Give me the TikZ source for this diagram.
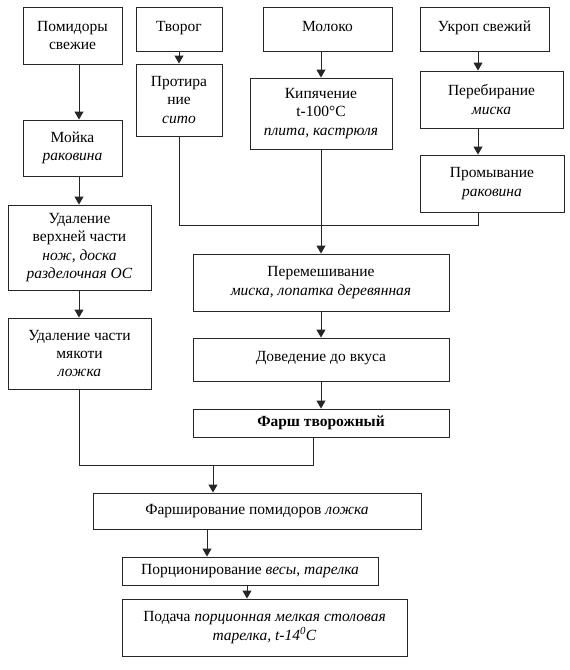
\documentclass[tikz,border=0pt]{standalone}
\usepackage{fontspec}
\setmainfont{Liberation Serif}
\usetikzlibrary{arrows.meta}
\begin{document}
\begin{tikzpicture}[x=1pt,y=-1pt,
  pbox/.style={draw=black!85, line width=0.9pt, align=center, inner sep=0pt,
    font=\fontsize{15.5}{18.2}\selectfont},
  conn/.style={draw=black!85, line width=0.9pt},
  arrline/.style={conn, -{Triangle[length=8pt,width=9pt]}}]
\useasboundingbox (0,0) rectangle (570,670);
% left column
\node[pbox, minimum width=99pt, minimum height=57pt] (pom) at (72.5,35.5) {Помидоры\\свежие};
\node[pbox, minimum width=99pt, minimum height=56pt] (moy) at (72.5,148) {Мойка\\\textit{раковина}};
\node[pbox, minimum width=143pt, minimum height=85pt] (udv) at (79.5,247.5) {Удаление\\верхней части\\\textit{нож, доска}\\\textit{разделочная ОС}};
\node[pbox, minimum width=143pt, minimum height=71pt] (udm) at (79.5,353.5) {Удаление части\\мякоти\\\textit{ложка}};
% tvorog
\node[pbox, minimum width=86pt, minimum height=44pt, text depth=6pt] (tvo) at (179,29) {Творог};
\node[pbox, minimum width=86pt, minimum height=72pt] (pro) at (179,100) {Протира\\ние\\\textit{сито}};
% moloko
\node[pbox, minimum width=129pt, minimum height=44pt, text depth=6pt] (mol) at (327.5,29) {Молоко};
\node[pbox, minimum width=142pt, minimum height=71pt] (kip) at (321,113.5) {Кипячение\\t-100°C\\\textit{плита, кастрюля}};
% ukrop
\node[pbox, minimum width=129pt, minimum height=44pt, text depth=6pt] (ukr) at (484.5,29) {Укроп свежий};
\node[pbox, minimum width=143pt, minimum height=57pt] (per) at (491.5,99.5) {Перебирание\\\textit{миска}};
\node[pbox, minimum width=144pt, minimum height=57pt] (prm) at (492,183.5) {Промывание\\\textit{раковина}};
% center
\node[pbox, minimum width=256pt, minimum height=57pt] (mix) at (321,282.5) {Перемешивание\\\textit{миска, лопатка деревянная}};
\node[pbox, minimum width=256pt, minimum height=43pt, text depth=7pt] (dov) at (321,359.5) {Доведение до вкуса};
\node[pbox, minimum width=256pt, minimum height=28pt] (far) at (321,423) {\textbf{Фарш творожный}};
% bottom
\node[pbox, minimum width=328pt, minimum height=36pt] (fsh) at (257,511) {Фарширование помидоров \textit{ложка}};
\node[pbox, minimum width=256pt, minimum height=28pt] (por) at (250,571) {Порционирование \textit{весы}, \textit{тарелка}};
\node[pbox, minimum width=285pt, minimum height=57pt] (pod) at (264.5,627.5) {Подача \textit{порционная мелкая столовая}\\\textit{тарелка, t-14\textsuperscript{0}C}};
% helper coordinates
\coordinate (xL) at (79,0);
\coordinate (xT) at (179,0);
\coordinate (xM) at (321,0);
\coordinate (xU) at (478,0);
\coordinate (xF) at (313,0);
\coordinate (xJ) at (213,0);
\coordinate (xP) at (207,0);
\coordinate (xQ) at (247,0);
\coordinate (yA) at (0,225);
\coordinate (yB) at (0,465);
% connectors
\draw[arrline] (pom.south -| xL) -- (moy.north -| xL);
\draw[arrline] (moy.south -| xL) -- (udv.north -| xL);
\draw[arrline] (udv.south -| xL) -- (udm.north -| xL);
\draw[arrline] (tvo.south -| xT) -- (pro.north -| xT);
\draw[arrline] (mol.south -| xM) -- (kip.north -| xM);
\draw[arrline] (ukr.south -| xU) -- (per.north -| xU);
\draw[arrline] (per.south -| xU) -- (prm.north -| xU);
\coordinate (jA) at (xM |- yA);
\draw[conn] (pro.south -| xT) |- (jA);
\draw[conn] (prm.south -| xU) |- (jA);
\draw[arrline] (kip.south -| xM) -- (mix.north -| xM);
\draw[arrline] (mix.south -| xM) -- (dov.north -| xM);
\draw[arrline] (dov.south -| xM) -- (far.north -| xM);
\coordinate (jB) at (xJ |- yB);
\draw[conn] (udm.south -| xL) |- (jB);
\draw[conn] (far.south -| xF) |- (jB);
\draw[arrline] (jB) -- (fsh.north -| xJ);
\draw[arrline] (fsh.south -| xP) -- (por.north -| xP);
\draw[arrline] (por.south -| xQ) -- (pod.north -| xQ);
\end{tikzpicture}
\end{document}
